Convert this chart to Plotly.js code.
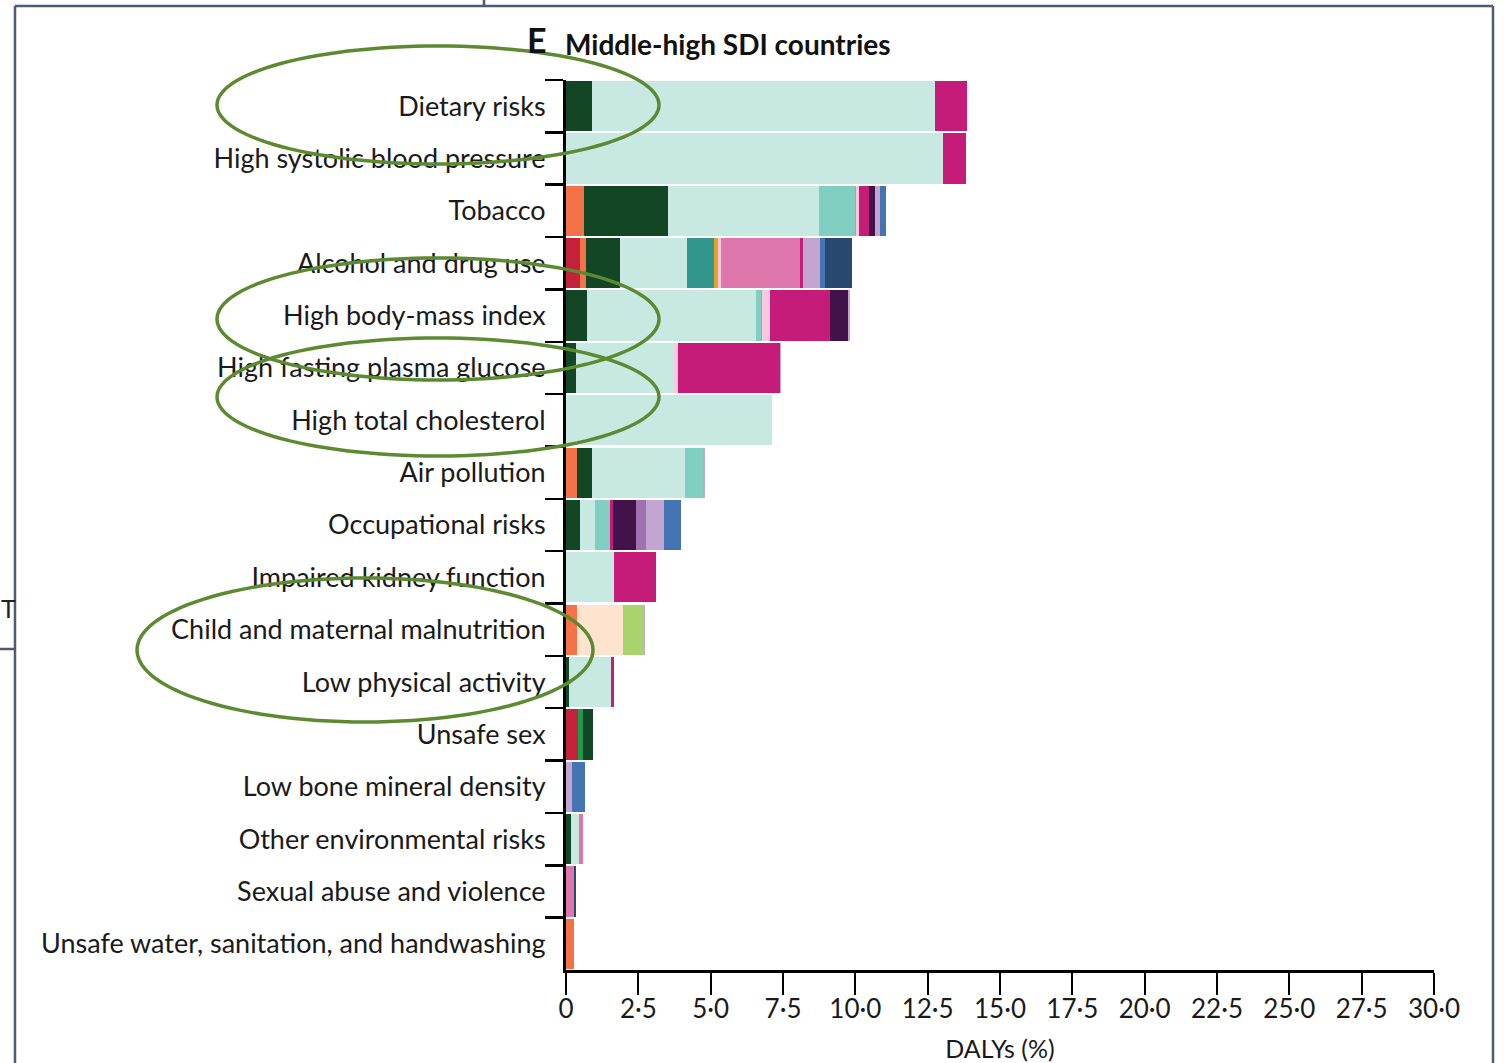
<!DOCTYPE html>
<html>
<head>
<meta charset="utf-8">
<script src="https://cdn.plot.ly/plotly-3.0.1.min.js"></script>
<style>
  html, body { margin: 0; padding: 0; background: #ffffff; }
  #chart { width: 1506px; height: 1063px; }
</style>
</head>
<body>
<div id="chart"></div>
<script>
// Risk factors, top to bottom
const riskFactors = [
  "Dietary risks",
  "High systolic blood pressure",
  "Tobacco",
  "Alcohol and drug use",
  "High body-mass index",
  "High fasting plasma glucose",
  "High total cholesterol",
  "Air pollution",
  "Occupational risks",
  "Impaired kidney function",
  "Child and maternal malnutrition",
  "Low physical activity",
  "Unsafe sex",
  "Low bone mineral density",
  "Other environmental risks",
  "Sexual abuse and violence",
  "Unsafe water, sanitation, and handwashing"
];

// Attributable DALYs (%) by cause group, one value per risk factor (same order as above)
const hivSti          = [0, 0, 0, 0.47, 0, 0, 0, 0, 0, 0, 0, 0, 0.43, 0, 0, 0, 0];
const infections      = [0, 0, 0.62, 0.23, 0, 0, 0, 0.39, 0, 0, 0.37, 0, 0, 0, 0, 0, 0.29];
const maternalNeonatal= [0, 0, 0, 0, 0, 0, 0, 0, 0, 0, 1.61, 0, 0, 0, 0, 0, 0];
const nutritional     = [0, 0, 0, 0, 0, 0, 0, 0, 0, 0, 0.73, 0, 0, 0, 0, 0, 0];
const otherInfectious = [0, 0, 0, 0, 0, 0, 0, 0, 0, 0, 0, 0, 0.17, 0, 0, 0, 0];
const neoplasms       = [0.90, 0, 2.90, 1.16, 0.73, 0.35, 0, 0.52, 0.49, 0, 0, 0.10, 0.33, 0, 0.18, 0, 0];
const cardiovascular  = [11.86, 13.03, 5.22, 2.33, 5.82, 3.37, 7.11, 3.22, 0.52, 1.67, 0, 1.46, 0, 0, 0.26, 0, 0];
const chronicResp     = [0, 0, 1.24, 0, 0.18, 0, 0, 0.62, 0.50, 0, 0, 0, 0, 0, 0, 0, 0];
const digestive       = [0, 0, 0, 0.94, 0, 0, 0, 0, 0, 0, 0, 0, 0, 0, 0, 0, 0];
const neurological    = [0, 0, 0.06, 0.14, 0.05, 0, 0, 0, 0, 0, 0, 0, 0, 0, 0, 0, 0];
const mental          = [0, 0, 0.07, 0.08, 0.28, 0.14, 0, 0, 0, 0, 0, 0, 0, 0, 0, 0, 0];
const substanceUse    = [0, 0, 0, 2.75, 0, 0, 0, 0, 0, 0, 0, 0, 0, 0, 0.15, 0.26, 0];
const diabetesCkd     = [1.09, 0.78, 0.36, 0.08, 2.08, 3.55, 0, 0, 0.11, 1.44, 0, 0.09, 0, 0, 0, 0, 0];
const musculoskeletal = [0, 0, 0.20, 0, 0.61, 0, 0, 0, 0.80, 0, 0, 0, 0, 0, 0, 0, 0];
const senseOrgan      = [0, 0, 0, 0, 0, 0, 0, 0, 0.35, 0, 0, 0, 0, 0, 0, 0, 0];
const transport       = [0, 0, 0.19, 0.61, 0.05, 0.03, 0, 0.06, 0.60, 0, 0.03, 0, 0, 0.20, 0, 0, 0];
const unintentional   = [0, 0, 0.21, 0.15, 0, 0, 0, 0, 0.59, 0, 0, 0, 0, 0.46, 0, 0, 0];
const selfHarm        = [0, 0, 0, 0.93, 0, 0, 0, 0, 0, 0, 0, 0, 0, 0, 0, 0.09, 0];

// x-axis ticks, with the journal's mid-dot decimal separator
const xTickValues = [0, 2.5, 5, 7.5, 10, 12.5, 15, 17.5, 20, 22.5, 25, 27.5, 30];
const xTickLabels = ["0", "2·5", "5·0", "7·5", "10·0", "12·5", "15·0", "17·5", "20·0", "22·5", "25·0", "27·5", "30·0"];

const causeSeries = [
  { name: "HIV/AIDS and sexually transmitted infections", values: hivSti, color: "#c4213a" },
  { name: "Respiratory and enteric infections", values: infections, color: "#f47248" },
  { name: "Maternal and neonatal disorders", values: maternalNeonatal, color: "#fee4cf" },
  { name: "Nutritional deficiencies", values: nutritional, color: "#a9d46d" },
  { name: "Other infectious diseases", values: otherInfectious, color: "#1f9a4c" },
  { name: "Neoplasms", values: neoplasms, color: "#134625" },
  { name: "Cardiovascular diseases", values: cardiovascular, color: "#c8e8e2" },
  { name: "Chronic respiratory diseases", values: chronicResp, color: "#80cfc0" },
  { name: "Digestive diseases", values: digestive, color: "#31968e" },
  { name: "Neurological disorders", values: neurological, color: "#e0a528" },
  { name: "Mental disorders", values: mental, color: "#f7c8de" },
  { name: "Substance use disorders", values: substanceUse, color: "#dd77ab" },
  { name: "Diabetes and kidney diseases", values: diabetesCkd, color: "#c51b79" },
  { name: "Musculoskeletal disorders", values: musculoskeletal, color: "#42124b" },
  { name: "Sense organ diseases", values: senseOrgan, color: "#9d72ae" },
  { name: "Transport injuries", values: transport, color: "#c2a5d0" },
  { name: "Unintentional injuries", values: unintentional, color: "#4574b4" },
  { name: "Self-harm and interpersonal violence", values: selfHarm, color: "#29486f" }
];

const traces = causeSeries.map(s => ({
  type: "bar",
  orientation: "h",
  name: s.name,
  x: s.values,
  y: riskFactors,
  marker: { color: s.color, line: { width: 0 } },
  hoverinfo: "x+name"
}));

// Plot-area geometry in page pixels (used for paper-referenced decorations)
const W = 1506, H = 1063;
const M = { l: 566, r: 72, t: 80, b: 93 };
const plotW = W - M.l - M.r, plotH = H - M.t - M.b;
const px = x => (x - M.l) / plotW;
const py = y => (H - M.b - y) / plotH;

// Hand-drawn style highlight ellipses, built as closed polylines
function ellipsePath(cx, cy, rx, ry, steps) {
  let d = "";
  for (let i = 0; i <= steps; i++) {
    const t = (i / steps) * 2 * Math.PI;
    const x = px(cx + rx * Math.cos(t));
    const y = py(cy + ry * Math.sin(t));
    d += (i === 0 ? "M" : "L") + x.toFixed(5) + "," + y.toFixed(5);
  }
  return d + "Z";
}

const ringColor = "#5b8a31";
const frameColor = "#4d5b74";
const ring = (cx, cy, rx, ry) => ({
  type: "path", xref: "paper", yref: "paper",
  path: ellipsePath(cx, cy, rx, ry, 120),
  line: { color: ringColor, width: 3.5 }, layer: "above"
});
const frameLine = (x0, y0, x1, y1) => ({
  type: "line", xref: "paper", yref: "paper",
  x0: px(x0), y0: py(y0), x1: px(x1), y1: py(y1),
  line: { color: frameColor, width: 2.5 }, layer: "above"
});

const layout = {
  width: W, height: H,
  margin: M,
  paper_bgcolor: "#ffffff",
  plot_bgcolor: "#ffffff",
  barmode: "stack",
  bargap: 0.04,
  showlegend: false,
  font: { family: "Lato, 'Open Sans', sans-serif", color: "#1a1a1a" },
  xaxis: {
    range: [0, 30],
    tickvals: xTickValues,
    ticktext: xTickLabels,
    ticks: "outside", ticklen: 22, tickwidth: 2, tickcolor: "#000",
    ticklabelstandoff: -8,
    showline: true, linewidth: 3, linecolor: "#000",
    showgrid: false, zeroline: false,
    tickfont: { family: "Lato, sans-serif", size: 26, color: "#1a1a1a" },
    title: { text: "DALYs (%)", font: { family: "Lato, sans-serif", size: 25, color: "#1a1a1a" }, standoff: 20 },
    fixedrange: true
  },
  yaxis: {
    type: "category",
    autorange: "reversed",
    tickson: "boundaries",
    ticks: "outside", ticklen: 18, tickwidth: 2.5, tickcolor: "#000",
    ticklabelstandoff: 12,
    showline: true, linewidth: 3, linecolor: "#000",
    showgrid: false, zeroline: false,
    tickfont: { family: "Lato, sans-serif", size: 27, color: "#1a1a1a" },
    fixedrange: true
  },
  annotations: [
    { xref: "paper", yref: "paper", x: px(525), y: py(40), xanchor: "left", yanchor: "middle",
      text: "<b>E</b>", showarrow: false, font: { family: "Lato, sans-serif", size: 34, color: "#111" } },
    { xref: "paper", yref: "paper", x: px(563), y: py(44), xanchor: "left", yanchor: "middle",
      text: "<b>Middle-high SDI countries</b>", showarrow: false, font: { family: "Lato, sans-serif", size: 28, color: "#111" } },
    { xref: "paper", yref: "paper", x: px(8), y: py(608), xanchor: "center", yanchor: "middle",
      text: "T", showarrow: false, font: { family: "Lato, sans-serif", size: 25, color: "#222" } }
  ],
  shapes: [
    frameLine(15, 6, 1493, 6),
    frameLine(15, 6, 15, 1063),
    frameLine(1493, 6, 1493, 1063),
    frameLine(484, 0, 484, 6),
    frameLine(0, 649, 15, 649),
    ring(438, 105, 221, 59),
    ring(438, 319, 221, 61),
    ring(438, 397, 221, 59),
    ring(365, 650, 228, 72)
  ]
};

Plotly.newPlot("chart", traces, layout, { displayModeBar: false, staticPlot: true });
</script>
</body>
</html>
